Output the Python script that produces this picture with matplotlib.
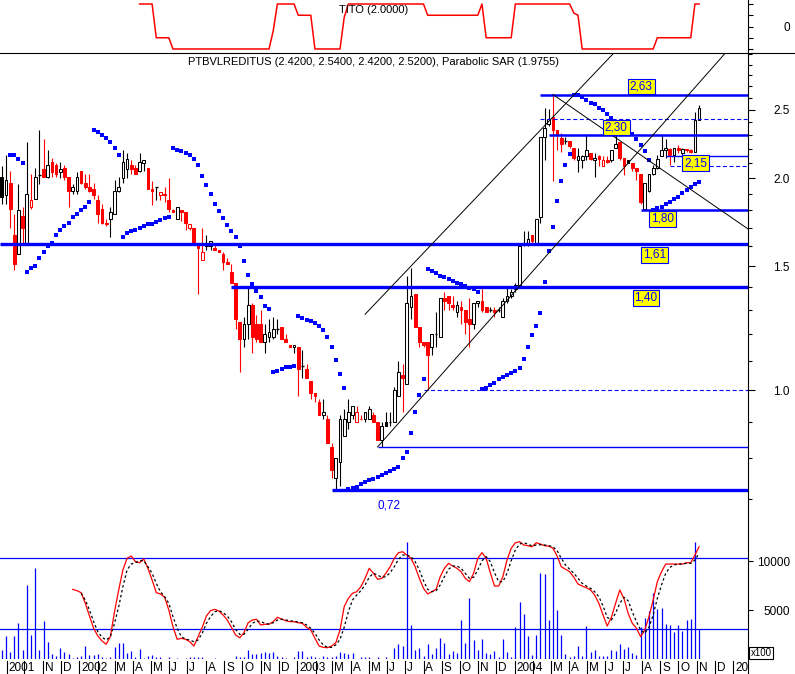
import numpy as np
import pandas as pd
import matplotlib
matplotlib.use("Agg")
import matplotlib.pyplot as plt
import matplotlib.dates as mdates
from matplotlib.ticker import FixedLocator, FixedFormatter, NullFormatter, NullLocator
from matplotlib.lines import Line2D
from matplotlib.transforms import blended_transform_factory, Bbox, TransformedBbox

plt.rcParams['font.family'] = ['Liberation Sans', 'DejaVu Sans']

RED, BLUE, YEL = '#FF0000', '#0000FF', '#FFFF00'

# ---------------- data (weekly bars, Fridays) ----------------
dates = pd.date_range(end='2004-11-05', periods=168, freq='7D')

opens = [2.01, 1.89, 1.97, 1.66, 1.56, 1.77, 1.62, 1.82, 1.87, 2.02, 2.06, 2.01, 2.11, 2.09, 2.04, 2.07, 2.01, 1.92,
         1.92, 2.05, 1.97, 1.94, 1.93, 1.86, 1.81, 1.73, 1.75, 1.78, 1.92, 2.00, 2.06, 2.09, 2.07, 2.05, 2.10, 2.07,
         1.93, 1.94, 1.89, 1.90, 1.86, 1.80, 1.75, 1.80, 1.79, 1.70, 1.70, 1.62, 1.53, 1.60, 1.60, 1.59, 1.58, 1.56,
         1.52, 1.47, 1.42, 1.25, 1.18, 1.24, 1.32, 1.24, 1.24, 1.17, 1.19, 1.19, 1.22, 1.23, 1.18, 1.16, 1.15, 1.15,
         1.08, 1.07, 1.03, 0.99, 0.96, 0.92, 0.91, 0.83, 0.75, 0.79, 0.86, 0.90, 0.92, 0.90, 0.91, 0.91, 0.91, 0.92,
         0.90, 0.85, 0.90, 0.90, 0.90, 0.98, 1.05, 1.02, 1.31, 1.37, 1.23, 1.17, 1.17, 1.15, 1.20, 1.19, 1.35, 1.36,
         1.32, 1.29, 1.31, 1.30, 1.26, 1.24, 1.33, 1.34, 1.31, 1.30, 1.30, 1.30, 1.27, 1.34, 1.36, 1.39, 1.41, 1.61,
         1.61, 1.66, 1.62, 1.76, 2.29, 2.39, 2.44, 2.34, 2.28, 2.26, 2.26, 2.21, 2.12, 2.12, 2.15, 2.17, 2.12, 2.15,
         2.08, 2.12, 2.12, 2.21, 2.25, 2.14, 2.12, 2.10, 2.07, 2.03, 1.81, 1.92, 2.03, 2.07, 2.15, 2.19, 2.20, 2.16,
         2.21, 2.17, 2.20, 2.19, 2.18, 2.42]
highs = [2.08, 2.16, 2.05, 1.78, 1.96, 1.82, 2.25, 2.03, 2.07, 2.34, 2.27, 2.19, 2.14, 2.10, 2.11, 2.09, 2.01, 1.96,
         2.04, 2.05, 2.03, 2.03, 1.97, 1.89, 1.84, 1.75, 1.82, 1.99, 2.01, 2.19, 2.17, 2.12, 2.09, 2.17, 2.12, 2.07,
         1.98, 1.94, 1.91, 1.94, 2.00, 1.81, 1.82, 1.80, 1.79, 1.72, 1.70, 1.62, 1.70, 1.66, 1.63, 1.62, 1.58, 1.57,
         1.54, 1.51, 1.42, 1.25, 1.27, 1.40, 1.33, 1.28, 1.30, 1.24, 1.26, 1.27, 1.26, 1.23, 1.20, 1.16, 1.16, 1.15,
         1.14, 1.09, 1.03, 0.99, 0.97, 0.97, 0.92, 0.84, 0.80, 0.92, 0.94, 0.97, 0.95, 0.95, 0.92, 0.93, 0.95, 0.93,
         0.90, 0.90, 0.93, 0.93, 1.01, 1.10, 1.09, 1.45, 1.49, 1.37, 1.23, 1.17, 1.17, 1.20, 1.29, 1.35, 1.38, 1.36,
         1.36, 1.34, 1.34, 1.30, 1.35, 1.33, 1.34, 1.39, 1.31, 1.31, 1.31, 1.31, 1.35, 1.40, 1.39, 1.42, 1.60, 1.68,
         1.68, 1.66, 1.75, 2.29, 2.52, 2.51, 2.63, 2.34, 2.32, 2.29, 2.26, 2.21, 2.21, 2.16, 2.31, 2.17, 2.17, 2.16,
         2.15, 2.15, 2.19, 2.30, 2.25, 2.14, 2.12, 2.10, 2.07, 2.03, 1.97, 2.03, 2.09, 2.16, 2.30, 2.27, 2.21, 2.21,
         2.23, 2.21, 2.20, 2.20, 2.48, 2.54]
lows = [1.84, 1.84, 1.70, 1.48, 1.56, 1.62, 1.62, 1.81, 1.87, 1.96, 2.01, 2.00, 2.01, 2.01, 2.00, 1.99, 1.82, 1.90,
        1.90, 1.96, 1.93, 1.91, 1.87, 1.73, 1.72, 1.71, 1.65, 1.78, 1.91, 1.97, 2.00, 2.03, 2.03, 2.04, 2.05, 1.93,
        1.83, 1.86, 1.86, 1.85, 1.79, 1.79, 1.75, 1.74, 1.69, 1.69, 1.62, 1.37, 1.53, 1.58, 1.58, 1.58, 1.57, 1.48,
        1.51, 1.42, 1.22, 1.06, 1.15, 1.18, 1.13, 1.17, 1.17, 1.13, 1.17, 1.18, 1.20, 1.18, 1.17, 1.15, 1.13, 0.98,
        1.04, 1.04, 0.97, 0.96, 0.92, 0.91, 0.84, 0.75, 0.72, 0.73, 0.86, 0.88, 0.91, 0.90, 0.91, 0.90, 0.91, 0.90,
        0.85, 0.83, 0.89, 0.89, 0.90, 0.98, 0.93, 1.02, 1.26, 1.23, 1.15, 1.15, 1.00, 1.12, 1.15, 1.19, 1.30, 1.30,
        1.30, 1.27, 1.24, 1.20, 1.15, 1.22, 1.31, 1.29, 1.29, 1.29, 1.27, 1.29, 1.27, 1.33, 1.35, 1.38, 1.40, 1.60,
        1.60, 1.62, 1.62, 1.73, 2.12, 2.37, 1.98, 2.19, 2.18, 2.24, 2.21, 2.12, 2.04, 2.07, 2.12, 2.12, 2.01, 2.08,
        2.08, 2.10, 2.11, 2.21, 2.12, 2.02, 2.10, 2.05, 1.99, 1.84, 1.80, 1.91, 2.02, 2.06, 2.15, 2.14, 2.09, 2.11,
        2.17, 2.16, 2.18, 2.17, 2.18, 2.42]
closes = [1.88, 1.99, 1.81, 1.51, 1.80, 1.70, 1.90, 1.86, 2.01, 2.02, 2.01, 2.09, 2.04, 2.03, 2.06, 2.01, 1.92, 1.94,
          2.01, 1.97, 1.94, 1.92, 1.89, 1.78, 1.73, 1.72, 1.79, 1.92, 1.94, 2.11, 2.13, 2.06, 2.03, 2.11, 2.12, 1.93,
          1.92, 1.94, 1.91, 1.89, 1.81, 1.79, 1.82, 1.79, 1.73, 1.72, 1.62, 1.59, 1.57, 1.61, 1.63, 1.58, 1.57, 1.52,
          1.51, 1.42, 1.26, 1.18, 1.24, 1.32, 1.19, 1.18, 1.17, 1.20, 1.21, 1.22, 1.22, 1.18, 1.17, 1.15, 1.16, 1.07,
          1.08, 1.04, 0.99, 0.98, 0.92, 0.93, 0.84, 0.77, 0.80, 0.91, 0.91, 0.93, 0.95, 0.93, 0.91, 0.93, 0.94, 0.90,
          0.85, 0.89, 0.89, 0.90, 1.00, 1.06, 1.04, 1.33, 1.36, 1.23, 1.17, 1.16, 1.12, 1.20, 1.20, 1.35, 1.34, 1.33,
          1.31, 1.32, 1.30, 1.25, 1.24, 1.33, 1.34, 1.30, 1.29, 1.30, 1.29, 1.30, 1.34, 1.36, 1.38, 1.41, 1.60, 1.62,
          1.64, 1.63, 1.75, 2.29, 2.36, 2.43, 2.34, 2.30, 2.24, 2.26, 2.22, 2.14, 2.15, 2.15, 2.19, 2.13, 2.14, 2.13,
          2.12, 2.11, 2.19, 2.24, 2.14, 2.08, 2.10, 2.07, 2.05, 1.85, 1.97, 2.03, 2.07, 2.13, 2.19, 2.21, 2.16, 2.21,
          2.19, 2.20, 2.19, 2.18, 2.42, 2.52]

nan = np.nan
sar = [nan, nan, 2.16, 2.16, 2.13, 2.10,
       1.47, 1.49, 1.50, 1.54, 1.57, 1.60, 1.62, 1.66, 1.69, 1.71, 1.73, 1.76, 1.78, 1.80, 1.82, 1.85,
       2.34, 2.33, 2.30, 2.28, 2.25, 2.21, 2.16,
       1.65, 1.67, 1.68, 1.69, 1.70, 1.71, 1.72, 1.723, 1.731, 1.746, 1.754, 1.761,
       2.205, 2.191, 2.184, 2.174, 2.156, 2.127, 2.088, 2.014, 1.954, 1.897, 1.838, 1.796, 1.754, 1.714, 1.681,
       1.650, 1.602, 1.524, 1.456, 1.415, 1.383, 1.354, 1.318, 1.302,
       1.060, 1.065, 1.072, 1.077, 1.079, 1.082,
       1.273, 1.267, 1.257, 1.253, 1.244, 1.234, 1.217, 1.191, 1.150, 1.103, 1.053, 1.006,
       0.723, 0.725, 0.729, 0.735, 0.740, 0.745, 0.748, 0.752, 0.757, 0.763, 0.767, 0.772, 0.778, 0.800, 0.816,
       0.868, 0.930, 0.983, 1.037,
       1.486, 1.475, 1.465, 1.454, 1.446, 1.437, 1.429, 1.418, 1.413, 1.405, 1.397, 1.391, 1.379,
       1.002, 1.007, 1.015, 1.022, 1.036, 1.044, 1.049, 1.056, 1.064, 1.076, 1.107, 1.152, 1.197, 1.233, 1.285,
       1.422, 1.574, 1.705, 1.856, 1.981, 2.086, 2.165,
       2.63, 2.626, 2.606, 2.583, 2.560, 2.547, 2.520, 2.496, 2.465, 2.439, 2.380, 2.357, 2.342, 2.334, 2.311,
       2.273, 2.229, 2.186, 2.122,
       1.802, 1.812, 1.822, 1.836, 1.849, 1.871, 1.883, 1.904, 1.924, 1.941, 1.960, 1.976]

# volume, in units of 100 shares
volume = [918, 2347, 748, 2347, 3707, 918, 7550, 2449, 9251, 918, 3877, 1734, 510, 306, 1088, 714, 510, 68,
          238, 306, 1326, 408, 408, 476, 238, 68, 238, 1190, 1598, 1666, 646, 850, 238, 1054, 68, 340,
          408, 238, 170, 34, 238, 34, 68, 34, 136, 170, 170, 238, 170, 34, 34, 68, 34, 34,
          34, 34, 306, 170, 238, 918, 510, 510, 646, 714, 578, 714, 306, 238, 68, 34, 170, 850,
          850, 238, 306, 170, 68, 306, 170, 238, 306, 714, 578, 510, 646, 34, 170, 170, 238, 34,
          238, 34, 238, 34, 1088, 1530, 1326, 11900, 3469, 918, 1088, 306, 1530, 510, 1088, 2177, 1598, 510,
          816, 646, 3979, 1598, 6190, 1939, 918, 2041, 578, 510, 816, 238, 2041, 714, 238, 3231, 5816, 4591,
          2347, 408, 2449, 8741, 8673, 3979, 10271, 4999, 2449, 510, 170, 306, 1326, 306, 3367, 714, 918, 306,
          306, 306, 918, 816, 1530, 986, 1190, 578, 408, 3299, 4149, 4931, 6768, 5067, 5169, 3537, 3469, 2789,
          3469, 2891, 3979, 4081, 11900, 3027]

# stochastic %K (from week 18) and %D (from week 20)
stoch_k = [53.5, 52.4, 50.7, 41.7, 31.0, 20.6, 14.1, 9.9, 7.1, 13.5, 34.6, 53.0,
           69.9, 79.7, 81.7, 76.9, 76.0, 79.2, 71.3, 61.4, 50.7, 49.6, 46.8, 36.1,
           21.9, 11.3, 12.1, 11.3, 9.3, 5.6, 13.5, 21.4, 31.0, 35.5, 36.6, 35.2,
           31.8, 27.6, 21.4, 14.9, 12.6, 16.9, 25.3, 27.6, 28.2, 23.4, 24.0, 24.0,
           26.2, 29.9, 28.4, 27.0, 26.2, 26.2, 25.3, 24.8, 21.4, 19.2, 12.1, 5.6,
           4.5, 4.2, 5.6, 8.4, 19.2, 38.8, 45.9, 50.2, 51.5, 55.7, 62.8, 71.3,
           67.1, 62.0, 62.8, 67.1, 72.6, 79.7, 84.5, 85.3, 82.5, 79.7, 72.6, 62.8,
           54.4, 49.6, 51.5, 53.5, 64.2, 71.3, 75.5, 73.2, 71.3, 68.4, 62.8, 60.0,
           67.1, 79.7, 84.5, 79.7, 67.6, 56.3, 56.3, 64.2, 78.3, 88.2, 92.9, 93.8,
           91.0, 90.4, 89.5, 92.9, 91.8, 90.4, 90.1, 88.2, 81.7, 72.6, 70.5, 68.4,
           63.7, 58.0, 56.3, 54.9, 53.0, 48.7, 41.7, 31.8, 22.5, 29.9, 41.7, 53.0,
           45.9, 33.3, 24.8, 20.6, 13.5, 19.2, 30.4, 44.5, 60.0, 68.4, 74.9, 74.9,
           74.9, 74.9, 74.9, 76.0, 76.0, 82.5, 89.5]
stoch_d = [50.2, 44.5, 36.1, 26.2, 17.7, 13.0, 10.7, 13.5, 24.8, 38.8, 55.7, 69.9,
           74.9, 76.0, 77.7, 77.7, 72.6, 67.1, 58.6, 51.5, 47.3, 41.7, 30.4, 20.6,
           13.5, 11.5, 10.7, 9.3, 10.7, 16.4, 24.8, 30.4, 34.6, 35.5, 33.8, 31.0,
           26.2, 19.7, 15.5, 15.5, 19.7, 24.8, 26.8, 26.2, 24.8, 24.2, 25.3, 27.6,
           28.2, 27.6, 27.0, 26.5, 25.9, 25.3, 23.4, 20.6, 16.4, 10.7, 6.5, 4.5,
           4.5, 6.5, 11.3, 21.4, 34.6, 44.5, 48.7, 52.4, 57.2, 63.7, 67.1, 65.6,
           63.7, 64.2, 67.6, 72.6, 78.9, 82.5, 82.5, 81.1, 76.9, 69.9, 60.8, 53.5,
           51.5, 52.4, 57.2, 64.2, 70.5, 73.2, 73.2, 71.3, 67.1, 62.8, 63.7, 69.9,
           77.7, 81.1, 76.9, 67.6, 60.0, 60.0, 67.1, 77.7, 86.8, 91.8, 92.9, 91.8,
           90.1, 91.0, 91.2, 91.0, 90.4, 89.5, 86.2, 79.7, 74.1, 70.5, 67.1, 62.8,
           58.6, 56.3, 54.4, 51.5, 47.3, 39.4, 29.9, 27.6, 33.3, 41.7, 46.8, 43.9,
           34.6, 26.2, 19.2, 16.4, 21.4, 31.8, 45.9, 57.2, 67.1, 72.1, 74.1, 74.9,
           74.9, 75.5, 75.5, 78.3, 84.0]

# TITO indicator as runs of (level, number of weeks)
tito_levels = [nan, 2, -1, -2, -0.4, 2, 1, -2, 0.8, 2, 1, 2, -1, 2, 1.2, 1, -2, -1, 2]
tito_runs = [33, 4, 4, 24, 1, 5, 4, 7, 1, 19, 13, 1, 7, 14, 1, 1, 18, 9, 2]

# support / resistance levels
level_vals = [2.63, 2.43, 2.30, 2.15, 2.08, 1.80, 1.61, 1.40, 1.00, 0.83, 0.72]
level_from = ['2004-02-13', '2004-02-13', '2004-02-27', '2004-09-10', '2004-09-17', '2004-07-30',
              '2001-08-21', '2002-09-13', '2003-08-01', '2003-05-16', '2003-02-28']
# trend lines: (start date, start price, end date, end price)
trend_lines = [('2003-04-25', 1.281, '2004-06-15', 3.012),
               ('2003-05-16', 0.83, '2004-12-19', 3.012),
               ('2004-03-05', 2.63, '2005-01-26', 1.694)]
# level captions
cap_text = ['2,63', '2,30', '2,15', '1,80', '1,61', '1,40']
cap_date = ['2004-07-31', '2004-06-19', '2004-10-30', '2004-09-05', '2004-08-22', '2004-08-08']
cap_price = [2.70, 2.36, 2.10, 1.75, 1.556, 1.353]

month_labels = ['2001', '', 'N', 'D',
                '2002', '', 'M', 'A', 'M', 'J', 'J', 'A', 'S', 'O', 'N', 'D',
                '2003', '', 'M', 'A', 'M', 'J', 'J', 'A', 'S', 'O', 'N', 'D',
                '2004', '', 'M', 'A', 'M', 'J', 'J', 'A', 'S', 'O', 'N', 'D',
                '2005']

# ---------------- layout ----------------
W, H = 795, 674
PW = 748
fig = plt.figure(figsize=(W / 100, H / 100), dpi=100)


def box(x0, y0, x1, y1):
    return [x0 / W, 1 - y1 / H, (x1 - x0) / W, (y1 - y0) / H]


ax_t = fig.add_axes(box(0, 0, PW, 53))
ax_m = fig.add_axes(box(0, 53, PW, 541))
ax_v = fig.add_axes(box(0, 541, PW, 659))
ax_s = ax_v.twinx()

xlim = (mdates.date2num(pd.Timestamp('2001-08-21')), mdates.date2num(pd.Timestamp('2005-01-26')))
for a in (ax_t, ax_m, ax_v, ax_s):
    a.set_xlim(xlim)
    for s in a.spines.values():
        s.set_visible(False)
    a.patch.set_alpha(0)
    a.xaxis.set_major_locator(NullLocator())
    a.xaxis.set_minor_locator(NullLocator())
    a.tick_params(axis='x', which='both', bottom=False, top=False, labelbottom=False)
    a.tick_params(axis='y', which='both', left=False, labelleft=False)

x = mdates.date2num(dates)


def right_ticks(a, major, labels, minor=None, maj_len=5.0, min_len=2.5):
    a.yaxis.tick_right()
    a.yaxis.set_major_locator(FixedLocator(major))
    a.yaxis.set_major_formatter(FixedFormatter(labels))
    if minor is None:
        a.yaxis.set_minor_locator(NullLocator())
    else:
        a.yaxis.set_minor_locator(FixedLocator(minor))
        a.yaxis.set_minor_formatter(NullFormatter())
    a.tick_params(axis='y', which='major', direction='out', length=maj_len, width=0.8,
                  pad=42 * 0.72 - maj_len, labelsize=8.5, right=True, labelright=True)
    a.tick_params(axis='y', which='minor', direction='out', length=min_len, width=0.8, right=True)
    for t in a.get_yticklabels():
        t.set_horizontalalignment('right')


# ---------------- TITO panel ----------------
tito = np.repeat(tito_levels, tito_runs)
ax_t.plot(x, tito, color=RED, lw=1.1)
ax_t.set_ylim(-2.356, 2.356)
right_ticks(ax_t, [-2, -1, 0, 1, 2], ['', '', '0', '', ''], maj_len=3.6)
ax_t.text(0.5, 1 - 10 / 53, 'TITO (2.0000)', transform=ax_t.transAxes, ha='center', va='center', fontsize=8)

# ---------------- price panel ----------------
ax_m.set_yscale('log')
ax_m.set_ylim(0.6101, 3.0126)
o, h, l, c = (np.array(v, dtype=float) for v in (opens, highs, lows, closes))
up = np.r_[True, c[1:] >= c[:-1]]
col = np.where(up, 'black', RED)
face = np.where(c < o, col, 'white')
bw = 4.6
ax_m.vlines(x, l, h, colors=col, lw=0.8, zorder=2)
body = o != c
ax_m.bar(x[body], np.abs(c - o)[body], bottom=np.minimum(o, c)[body], width=bw,
         color=face[body], edgecolor=col[body], linewidth=0.75, zorder=3)
ax_m.hlines(o[~body], x[~body] - bw / 2, x[~body] + bw / 2, colors=col[~body], lw=1.0, zorder=3)

ax_m.plot(x, sar, ls='none', marker='s', ms=2.5, mfc=BLUE, mec=BLUE, mew=0, zorder=4)

dash = (0, (3.6, 2.3))
level_lw = [1.8, 0.8, 1.8, 1.0, 0.8, 1.8, 2.4, 2.4, 0.8, 1.0, 2.4]
level_ls = ['-', dash, '-', '-', dash, '-', '-', '-', dash, '-', '-']
for v, d0, lw, ls in zip(level_vals, level_from, level_lw, level_ls):
    ax_m.hlines(v, mdates.date2num(pd.Timestamp(d0)), xlim[1], colors=BLUE, lw=lw, linestyles=[ls], zorder=5)

for d0, p0, d1, p1 in trend_lines:
    ax_m.plot(mdates.date2num([pd.Timestamp(d0), pd.Timestamp(d1)]), [p0, p1], color='black', lw=0.7, zorder=5)

for t, d, p in zip(cap_text, cap_date, cap_price):
    ax_m.text(mdates.date2num(pd.Timestamp(d)), p, t, ha='center', va='center', fontsize=8.5, color=BLUE,
              bbox=dict(boxstyle='square,pad=0.16', fc=YEL, ec=BLUE, lw=0.8), zorder=7)
ax_m.text(mdates.date2num(pd.Timestamp('2003-06-04')), 0.685, '0,72', ha='center', va='center',
          fontsize=8.5, color=BLUE, zorder=7)

ax_m.text(0.5, 1 - 9 / 488, 'PTBVLREDITUS (2.4200, 2.5400, 2.4200, 2.5200), Parabolic SAR (1.9755)',
          transform=ax_m.transAxes, ha='center', va='center', fontsize=8, zorder=8)

right_ticks(ax_m, [1.0, 1.5, 2.0, 2.5], ['1.0', '1.5', '2.0', '2.5'],
            minor=[0.7, 0.8, 0.9, 1.1, 1.2, 1.3, 1.4, 1.6, 1.7, 1.8, 1.9, 2.1, 2.2, 2.3, 2.4,
                   2.6, 2.7, 2.8, 2.9, 3.0], maj_len=5.0, min_len=2.6)

# ---------------- volume + stochastic panel ----------------
ax_v.vlines(x, 0, volume, colors=BLUE, lw=0.9, zorder=2)
ax_v.set_ylim(0, 12041)
right_ticks(ax_v, [5000, 10000], ['5000', '10000'], maj_len=3.6)

ax_s.set_ylim(-5.35, 94.37)
ax_s.axhline(80, color=BLUE, lw=0.9, zorder=3)
ax_s.axhline(20, color=BLUE, lw=0.9, zorder=3)
ax_s.plot(x[17:], stoch_k, color=RED, lw=0.9, zorder=4)
ax_s.plot(x[19:], stoch_d, color='black', lw=0.9, ls=(0, (2, 2)), zorder=4)
ax_s.yaxis.set_visible(False)

fig.text(761 / W, 1 - 653 / H, 'x100', ha='center', va='center', fontsize=7,
         bbox=dict(boxstyle='square,pad=0.12', fc='white', ec='black', lw=0.8))

# ---------------- month axis ----------------
months = mdates.date2num(pd.date_range('2001-09-01', '2005-01-01', freq='MS'))
trans = blended_transform_factory(ax_v.transData, fig.transFigure)
clip = TransformedBbox(Bbox([[0, 0], [PW / W, 1]]), fig.transFigure)
for xm, lab in zip(months, month_labels):
    ax_v.plot([xm, xm], [1 - 661 / H, 0], transform=trans, color='black', lw=0.8, clip_on=False)
    if lab:
        t = ax_v.annotate(lab, xy=(xm, 1 - 668 / H), xycoords=trans, xytext=(1.4, 0), textcoords='offset points',
                          ha='left', va='center', fontsize=8.5, family=['Liberation Sans Narrow', 'Liberation Sans'],
                          annotation_clip=False)
        t.set_clip_box(clip)
        t.set_clip_on(True)

# frame lines
fig.add_artist(Line2D([PW / W, PW / W], [0, 1], transform=fig.transFigure, color='black', lw=0.8))
fig.add_artist(Line2D([0, 1], [1 - 53 / H, 1 - 53 / H], transform=fig.transFigure, color='black', lw=0.8))

fig.savefig('out.png', dpi=100)
